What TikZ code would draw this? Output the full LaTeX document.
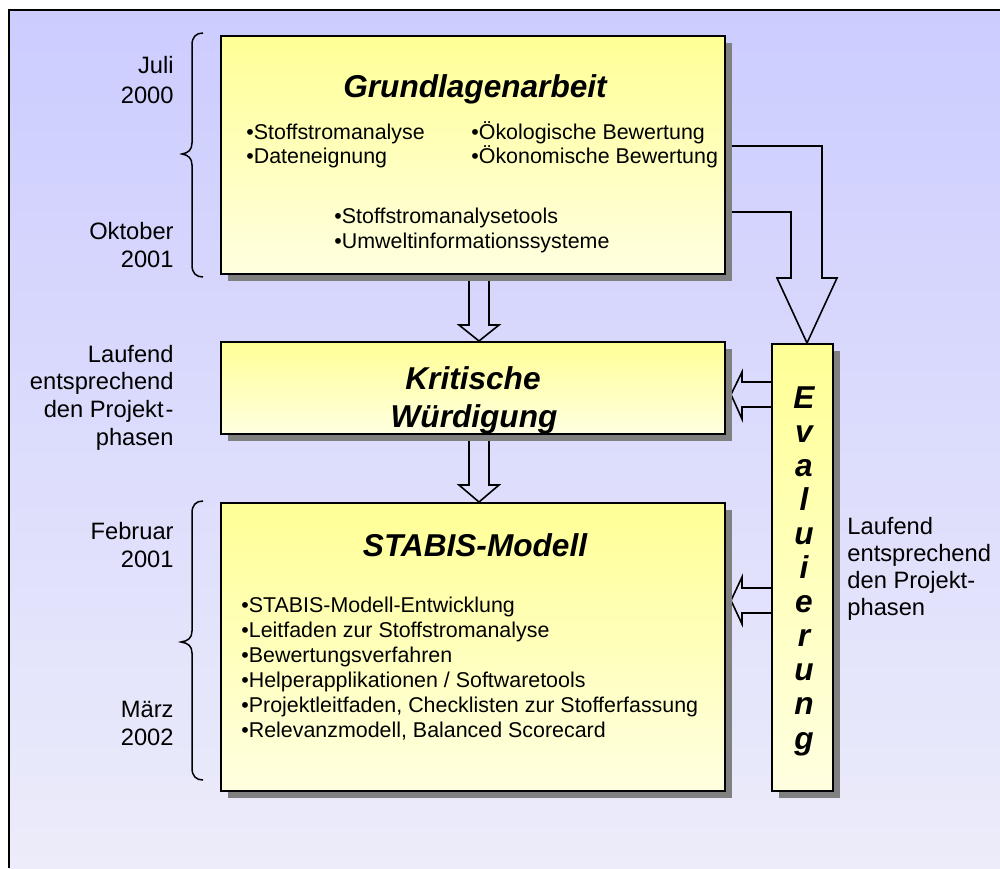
\documentclass[tikz,border=0pt]{standalone}
\usepackage{fontspec}
\setmainfont{Liberation Sans}
\usetikzlibrary{calc}
\definecolor{bgtop}{RGB}{204,204,255}
\definecolor{bgbot}{RGB}{236,236,250}
\definecolor{boxtop}{RGB}{255,255,150}
\definecolor{boxbot}{RGB}{255,255,225}
\definecolor{shadowgray}{RGB}{128,128,128}
\begin{document}
\begin{tikzpicture}[x=0.5pt,y=-0.5pt,
  boxshape/.style={inner sep=0pt, outer sep=0pt},
  box/.style={draw=black, line width=1pt, top color=boxtop, bottom color=boxbot,
    inner sep=0pt, outer sep=0pt},
  shadowfill/.style={fill=shadowgray},
  blockarrow/.style={draw=black, line width=0.8pt, line join=miter},
  bracepath/.style={draw=black, line width=0.75pt},
  ttl/.style={inner sep=0pt, font=\fontsize{15.8}{19}\selectfont\bfseries\itshape},
  bul/.style={inner sep=0pt, anchor=base west, font=\fontsize{10.7}{12.5}\selectfont},
  side/.style={inner sep=0pt, font=\fontsize{11.85}{14}\selectfont}]
\useasboundingbox (0,0) rectangle (1000,868);
\fill[white] (0,0) rectangle (1000,868);
\shade[top color=bgtop,bottom color=bgbot] (9,10) rectangle (1000,868);
\draw[line width=1pt] (9,868) -- (9,10) -- (1000,10);

% box positions
\path (473,155) coordinate (gc) (473,388) coordinate (kc) (473,647) coordinate (sc) (802.5,567.5) coordinate (ec);
\node[boxshape,minimum width=252pt,minimum height=119pt] (g) at (gc) {};
\node[boxshape,minimum width=252pt,minimum height=46pt] (k) at (kc) {};
\node[boxshape,minimum width=252pt,minimum height=144pt] (s) at (sc) {};
\node[boxshape,minimum width=30.5pt,minimum height=223.5pt] (e) at (ec) {};

% block arrows (behind boxes)
\draw[blockarrow] ($(g.south)+(-4,2)$) -- ++(0,49) -- ++(-10,0) -- ($(k.north)+(6,-1)$)
  -- ++(20,-16) -- ++(-10,0) -- ($(g.south)+(16,2)$);
\draw[blockarrow] ($(k.south)+(-4,2)$) -- ++(0,49) -- ++(-10,0) -- ($(s.north)+(6,-1)$)
  -- ++(20,-17) -- ++(-10,0) -- ($(k.south)+(16,2)$);
\draw[blockarrow] ($(e.west |- k.east)+(0,-6)$) -- ++(-30,0) -- ++(0,-10) -- ($(k.east)+(6,6.5)$)
  -- ++(11,24.5) -- ++(0,-12) -- ++(30,0);
\draw[blockarrow] ($(e.west |- s.east)+(0,-59)$) -- ++(-30,0) -- ++(0,-11) -- ($(s.east)+(6,-46.5)$)
  -- ++(11,23.5) -- ++(0,-11) -- ++(30,0);
\draw[blockarrow] ($(g.east)+(0,-9)$) -- ++(97,0) -- ++(0,132) -- ++(15,0) -- ($(e.north)+(4.5,-1)$)
  -- ++(-30,-65) -- ++(14,0) -- ++(0,-66) -- ++(-66,0);

% shadows
\foreach \b in {g,k,s,e}
  \fill[shadowfill] ($(\b.north west)+(7,7)$) rectangle ($(\b.south east)+(7,7)$);

% boxes
\node[box,minimum width=252pt,minimum height=119pt] (gb) at (gc) {};
\node[box,minimum width=252pt,minimum height=46pt] (kb) at (kc) {};
\node[box,minimum width=252pt,minimum height=144pt] (sb) at (sc) {};
\node[box,minimum width=30.5pt,minimum height=223.5pt] (eb) at (ec) {};

% titles
\node[ttl,anchor=base] (gt) at (475,97) {Grundlagenarbeit};
\node[ttl,anchor=base] (kt1) at (473,389) {Kritische};
\node[ttl,anchor=base] (kt2) at (474,427) {Würdigung};
\node[ttl,anchor=base] (st) at (475,556) {STABIS-Modell};
\foreach \ch [count=\i from 0] in {E,v,a,l,u,i,e,r,u,n,g}
  \node[ttl,anchor=base] (ev\i) at (804,{408+34.1*\i}) {\ch};

% Grundlagen bullets
\node[bul] (g1) at (246,139) {•Stoffstromanalyse};
\node[bul] (g2) at (246,163) {•Dateneignung};
\node[bul] (g3) at (471,139) {•Ökologische Bewertung};
\node[bul] (g4) at (471,163) {•Ökonomische Bewertung};
\node[bul] (g5) at (334,223) {•Stoffstromanalysetools};
\node[bul] (g6) at (334,248) {•Umweltinformationssysteme};

% STABIS bullets
\foreach \t [count=\i from 0] in {{•STABIS-Modell-Entwicklung},{•Leitfaden zur Stoffstromanalyse},{•Bewertungsverfahren},{•Helperapplikationen / Softwaretools},{•Projektleitfaden, Checklisten zur Stofferfassung},{•Relevanzmodell, Balanced Scorecard}}
  \node[bul] (sl\i) at (241,{612+25*\i}) {\t};

% braces
\draw[bracepath] (203,33) .. controls (196,33) and (192,37) .. (192,45) -- (192,143)
  .. controls (192,150) and (188,153) .. (182,154) .. controls (188,155) and (192,158) .. (192,165)
  -- (192,265) .. controls (192,273) and (196,277) .. (203,277);
\draw[bracepath] (203,501) .. controls (196,501) and (192,505) .. (192,513) -- (192,631)
  .. controls (192,638) and (188,641) .. (181,642) .. controls (188,643) and (192,646) .. (192,653)
  -- (192,768) .. controls (192,776) and (196,780) .. (203,780);

% left side labels
\node[side,anchor=base east] (d1) at (174,73) {Juli};
\node[side,anchor=base east] (d2) at (174,103) {2000};
\node[side,anchor=base east] (d3) at (174,239) {Oktober};
\node[side,anchor=base east] (d4) at (174,267) {2001};
\node[side,anchor=base east] (l1) at (174,362) {Laufend\ };
\node[side,anchor=base east] (l2) at (174,389) {entsprechend\ };
\node[side,anchor=base east] (l3) at (174,417) {den Projekt\kern1pt-};
\node[side,anchor=base east] (l4) at (174,445) {phasen};
\node[side,anchor=base east] (d5) at (174,539) {Februar};
\node[side,anchor=base east] (d6) at (174,567) {2001};
\node[side,anchor=base east] (d7) at (174,717) {März};
\node[side,anchor=base east] (d8) at (174,745) {2002};

% right side labels
\node[side,anchor=base west] (r1) at (847,534) {Laufend};
\node[side,anchor=base west] (r2) at (847,561.5) {entsprechend};
\node[side,anchor=base west] (r3) at (847,588.5) {den Projekt-};
\node[side,anchor=base west] (r4) at (847,615.5) {phasen};
\end{tikzpicture}
\end{document}
